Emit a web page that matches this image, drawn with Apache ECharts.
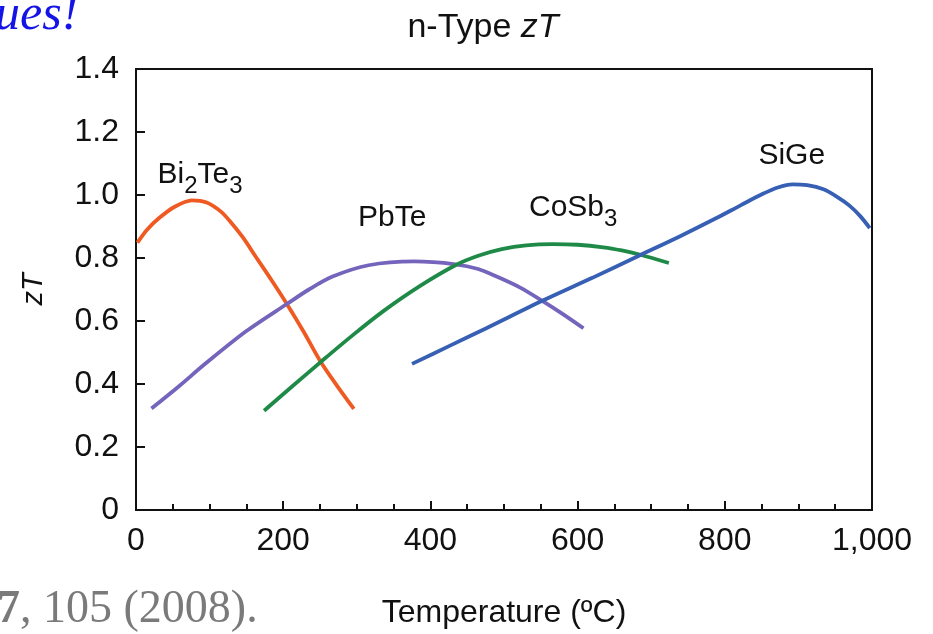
<!DOCTYPE html>
<html>
<head>
<meta charset="utf-8">
<title>n-Type zT</title>
<script src="https://cdn.jsdelivr.net/npm/echarts@6/dist/echarts.min.js"></script>
<style>
  html, body { margin: 0; padding: 0; background: #fff; }
  #chart { width: 933px; height: 634px; }
</style>
</head>
<body>
<div id="chart"></div>
<script>
// zT versus temperature (°C) for n-type thermoelectric materials
const bi2te3 = [[2, 0.849], [15, 0.890], [31, 0.926], [52, 0.962], [76, 0.983], [96, 0.976], [115, 0.948], [128, 0.916], [145, 0.866], [163, 0.803], [184, 0.730], [205, 0.654], [228, 0.565], [250, 0.474], [273, 0.395], [296, 0.321]];
const pbte = [[21, 0.322], [58, 0.392], [94, 0.464], [150, 0.568], [205, 0.654], [235, 0.700], [267, 0.741], [316, 0.777], [378, 0.789], [434, 0.780], [465, 0.765], [490, 0.741], [522, 0.706], [552, 0.664], [580, 0.622], [608, 0.577]];
const cosb3 = [[174, 0.315], [212, 0.392], [253, 0.474], [295, 0.556], [337, 0.633], [385, 0.710], [434, 0.777], [465, 0.807], [497, 0.828], [530, 0.840], [566, 0.844], [600, 0.842], [635, 0.834], [660, 0.824], [684, 0.811], [724, 0.784]];
const sige = [[375, 0.464], [426, 0.521], [476, 0.577], [552, 0.664], [620, 0.737], [684, 0.808], [740, 0.870], [788, 0.926], [822, 0.968], [851, 1.003], [872, 1.024], [892, 1.034], [912, 1.031], [934, 1.018], [952, 0.995], [969, 0.967], [984, 0.933], [997, 0.895]];

const xTickLabels = ['0', '200', '400', '600', '800', '1,000'];
const yTickLabels = ['0', '0.2', '0.4', '0.6', '0.8', '1.0', '1.2', '1.4'];

// material names and where each name sits (data coordinates)
const materialNames = ['Bi2Te3', 'PbTe', 'CoSb3', 'SiGe'];
const nameAnchors = [[87, 1.063], [348, 0.927], [594, 0.958], [891, 1.125]];

const FONT = "'Liberation Sans', Arial, sans-serif";
const colors = ['#ee5a22', '#7564bc', '#1f8a48', '#3760b4'];

const chart = echarts.init(document.getElementById('chart'), null, { renderer: 'canvas' });

// chemical formula as rich text: digits become subscripts
function richName(name) {
  return name.match(/[A-Za-z]+|\d+/g)
    .map(t => /\d/.test(t) ? '{sub|' + t + '}' : '{m|' + t + '}')
    .join('');
}

const nameStyle = {
  m: { fontFamily: FONT, fontSize: 30, color: '#111', lineHeight: 40 },
  sub: { fontFamily: FONT, fontSize: 24, color: '#111', lineHeight: 40, padding: [22, 0, 0, 0] }
};

const curves = [bi2te3, pbte, cosb3, sige];

const series = curves.map((d, i) => ({
  type: 'line',
  data: d,
  smooth: 0.3,
  showSymbol: false,
  symbol: 'none',
  lineStyle: { color: colors[i], width: 3.8 },
  z: 3,
  markPoint: {
    symbol: 'circle',
    symbolSize: 0,
    silent: true,
    data: [{
      coord: nameAnchors[i],
      label: {
        show: true,
        position: 'inside',
        formatter: richName(materialNames[i]),
        rich: nameStyle
      }
    }]
  }
}));

chart.setOption({
  animation: false,
  backgroundColor: '#fff',
  title: {
    text: 'n-Type {i|zT}',
    left: 478,
    textAlign: 'center',
    top: 6,
    textStyle: {
      fontFamily: FONT, fontSize: 34, fontWeight: 'normal', color: '#111',
      rich: { i: { fontFamily: FONT, fontSize: 34, fontStyle: 'italic', color: '#111' } }
    }
  },
  grid: {
    left: 136, right: 61, top: 69, bottom: 112,
    show: true, borderColor: '#111', borderWidth: 2, backgroundColor: 'transparent'
  },
  xAxis: {
    type: 'value', min: 0, max: 1000, interval: 200,
    name: 'Temperature (ºC)', nameLocation: 'middle', nameGap: 87,
    nameTextStyle: { fontFamily: FONT, fontSize: 32, color: '#111' },
    axisLine: { show: true, lineStyle: { color: '#111', width: 2 } },
    axisTick: { show: true, inside: true, length: 9, lineStyle: { color: '#111', width: 2 } },
    minorTick: { show: true, splitNumber: 4, length: 6, lineStyle: { color: '#111', width: 2 } },
    splitLine: { show: false },
    axisLabel: {
      fontFamily: FONT, fontSize: 32, color: '#111', margin: 15,
      formatter: v => xTickLabels[Math.round(v / 200)]
    }
  },
  yAxis: {
    type: 'value', min: 0, max: 1.4, interval: 0.2,
    name: 'zT', nameLocation: 'middle', nameGap: 88, nameRotate: 90,
    nameTextStyle: { fontFamily: FONT, fontSize: 29, fontStyle: 'italic', color: '#111' },
    axisLine: { show: true, lineStyle: { color: '#111', width: 2 } },
    axisTick: { show: true, inside: true, length: 9, lineStyle: { color: '#111', width: 2 } },
    splitLine: { show: false },
    axisLabel: {
      fontFamily: FONT, fontSize: 32, color: '#111', margin: 17,
      formatter: v => yTickLabels[Math.round(v / 0.2)]
    }
  },
  graphic: [
    {
      type: 'text', left: -5, top: -9, silent: true,
      style: { text: 'ues!', font: "italic 50px 'Liberation Serif', 'Times New Roman', serif", fill: '#1414e6' }
    },
    {
      type: 'text', left: -3, top: 587, silent: true,
      style: {
        text: '{b|7}{n|, 105 (2008).}',
        rich: {
          b: { font: "bold 46px 'Liberation Serif', 'Times New Roman', serif", fill: '#7a7a7a' },
          n: { font: "46px 'Liberation Serif', 'Times New Roman', serif", fill: '#7a7a7a' }
        }
      }
    }
  ],
  series: series
});
</script>
</body>
</html>
